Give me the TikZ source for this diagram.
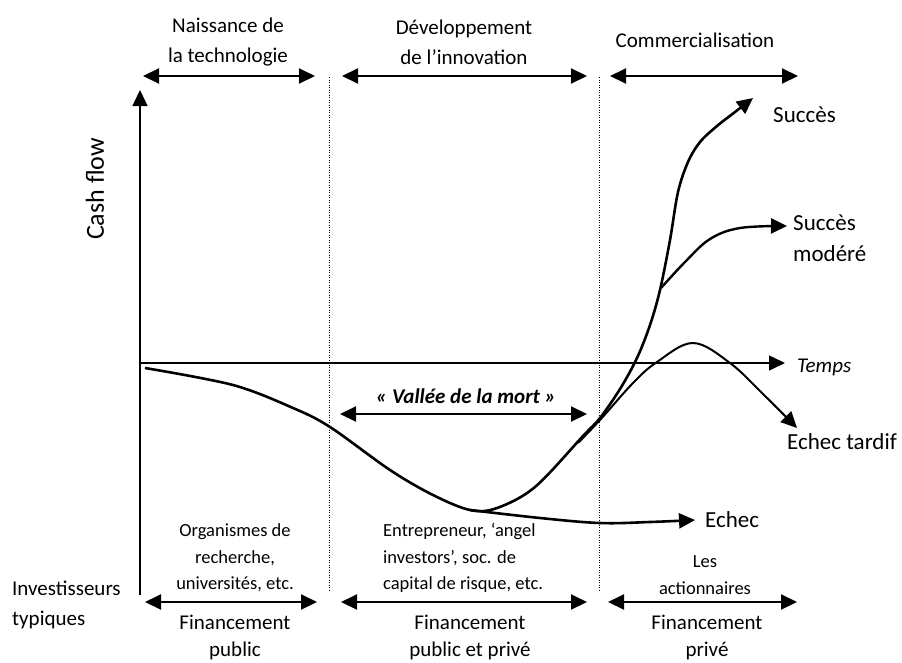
\documentclass[tikz,border=0pt]{standalone}
\usepackage{fontspec}
\setmainfont{Carlito}
\usetikzlibrary{arrows.meta,positioning}
\tikzset{
    phase/.style={
        <->,
        line width=2pt
    },
    axis/.style={
        ->,
        line width=1.5pt
    },
    border/.style={
        line width=0.8pt,
        dash pattern=on 1pt off 1.5pt
    },
    flow/.style={
        line width=2.6pt
    },
    biglabel/.style={
        font=\fontsize{21}{30}\selectfont,
        align=center,
        inner sep=0pt
    },
    smalllabel/.style={
        font=\fontsize{18.5}{26.5}\selectfont,
        align=center,
        inner sep=0pt
    },
    outcome/.style={
        font=\fontsize{23}{31}\selectfont,
        align=left,
        anchor=west,
        inner sep=0pt
    }
}

\begin{document}
\begin{tikzpicture}[x=1pt,y=-1pt,>={Triangle[length=16pt,width=15pt]}]
    \useasboundingbox (0,0) rectangle (902,662);

    % Phases
    \node[biglabel] (naissance) at (228,42) {Naissance de\\la technologie};
    \node[biglabel] (develop) at (464,42) {Développement\\de l’innovation};
    \node[biglabel] (commerce) at (695,40) {Commercialisation};
    \foreach \n/\a/\b in {a/143/315, b/342/587, c/610/798} {
        \coordinate (top\n-l) at (\a,76);
        \coordinate (top\n-r) at (\b,76);
        \draw[phase] (top\n-l) -- (top\n-r);
    }

    % Separators
    \foreach \n/\x in {1/329, 2/599} {
        \coordinate (sep\n-t) at (\x,77);
        \coordinate (sep\n-b) at (\x,592);
        \draw[border] (sep\n-t) -- (sep\n-b);
    }

    % Axes
    \coordinate (ybot) at (140,595);
    \coordinate (ytop) at (140,90);
    \coordinate (origin) at (140,363);
    \coordinate (xend) at (785,363);
    \draw[axis] (ybot) -- (ytop);
    \draw[axis] (origin) -- (xend);
    \node[font=\fontsize{26}{30}\selectfont, rotate=90, inner sep=0pt] (cash) at (95,189) {Cash flow};
    \node[font=\fontsize{21}{25}\selectfont\itshape, anchor=west, inner sep=0pt] (temps) at (797,367) {Temps};

    % Valley of death
    \coordinate (val-l) at (340,414);
    \coordinate (val-r) at (587,414);
    \draw[phase] (val-l) -- (val-r);
    \node[font=\fontsize{21}{25}\selectfont\bfseries\itshape, inner sep=0pt] (vallee) at (466,396) {« Vallée de la mort »};

    % Curves
    \draw[flow,->] plot[smooth, tension=0.55] coordinates {(145,368) (233,385) (293,408) (330,427) (390,470) (433,495) (470,510) (497,508) (535,487) (583,436) (600,418) (620,389) (637,358) (650,325) (660,290) (670,240) (678,192) (688,162) (700,142) (717,126) (735,112) (753,98)};
    \draw[flow,->] plot[smooth, tension=0.6] coordinates {(470,510) (540,518) (600,523) (650,522) (695,520)};
    \draw[line width=2pt,->] plot[smooth, tension=0.6] coordinates {(578,443) (600,420) (633,383) (657,362) (693,343) (730,363) (763,394) (797,428)};
    \draw[line width=2.4pt,->] plot[smooth, tension=0.6] coordinates {(661,288) (685,262) (710,239) (740,228) (787,226)};

    % Outcomes
    \node[outcome] (succes) at (773,115) {Succès};
    \node[outcome] (modere) at (793,238) {Succès\\modéré};
    \node[outcome] (tardif) at (787,442) {Echec tardif};
    \node[outcome] (echec) at (705,520) {Echec};

    % Investors
    \node[font=\fontsize{21}{30}\selectfont, align=left, anchor=west, inner sep=0pt] (invest) at (12,605) {Investisseurs\\typiques};
    \node[smalllabel] (recherche) at (235,558) {Organismes de\\recherche,\\universités, etc.};
    \node[smalllabel, align=left, anchor=west] (entrepreneur) at (383,558) {Entrepreneur, ‘angel\\investors’, soc. de\\capital de risque, etc.};
    \node[smalllabel] (actionnaires) at (705,575) {Les\\actionnaires};
    \foreach \n/\a/\b in {a/145/317, b/341/587, c/608/797} {
        \coordinate (bot\n-l) at (\a,602);
        \coordinate (bot\n-r) at (\b,602);
        \draw[phase] (bot\n-l) -- (bot\n-r);
    }

    % Funding
    \node[biglabel, font=\fontsize{21}{27}\selectfont] (fin-pub) at (235,637) {Financement\\public};
    \node[biglabel, font=\fontsize{21}{27}\selectfont] (fin-mix) at (470,637) {Financement\\public et privé};
    \node[biglabel, font=\fontsize{21}{27}\selectfont] (fin-priv) at (707,637) {Financement\\privé};
\end{tikzpicture}
\end{document}
